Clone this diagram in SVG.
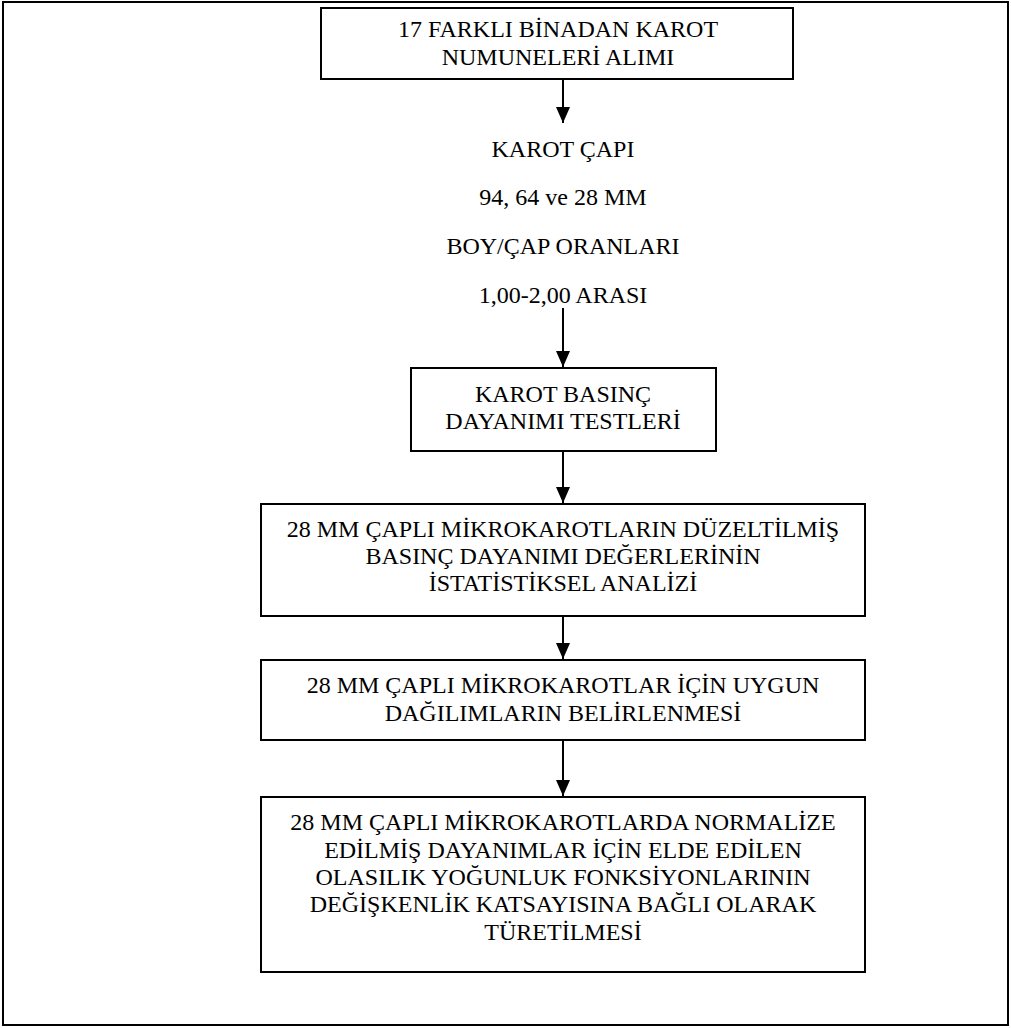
<svg xmlns="http://www.w3.org/2000/svg" width="1011" height="1028" viewBox="0 0 1011 1028">
<defs>
<style>
.frame{fill:#fff;stroke:#000;stroke-width:2}
.box{fill:#fff;stroke:#000;stroke-width:2}
.t{font-family:"Liberation Serif","Times New Roman",serif;font-size:24px;fill:#000;text-anchor:middle}
.c{stroke:#000;stroke-width:2;fill:none}
</style>
<marker id="ah" viewBox="0 0 16 14" refX="16" refY="7" markerWidth="16" markerHeight="14" markerUnits="userSpaceOnUse" orient="auto">
<path d="M0,0 L16,7 L0,14 Z" fill="#000"/>
</marker>
</defs>
<rect class="frame" x="3" y="2" width="1005" height="1023"/>
<g id="n1">
<rect class="box" x="321" y="8" width="472" height="71"/>
<text class="t" x="558" y="37">17 FARKLI BİNADAN KAROT</text>
<text class="t" x="558" y="65">NUMUNELERİ ALIMI</text>
</g>
<g id="n2">
<text class="t" x="563" y="157">KAROT ÇAPI</text>
<text class="t" x="563" y="205">94, 64 ve 28 MM</text>
<text class="t" x="563" y="254">BOY/ÇAP ORANLARI</text>
<text class="t" x="563" y="303">1,00-2,00 ARASI</text>
</g>
<g id="n3">
<rect class="box" x="411" y="368" width="305" height="83"/>
<text class="t" x="563" y="402">KAROT BASINÇ</text>
<text class="t" x="563" y="429">DAYANIMI TESTLERİ</text>
</g>
<g id="n4">
<rect class="box" x="261" y="504" width="604" height="112"/>
<text class="t" x="563" y="537">28 MM ÇAPLI MİKROKAROTLARIN DÜZELTİLMİŞ</text>
<text class="t" x="563" y="564">BASINÇ DAYANIMI DEĞERLERİNİN</text>
<text class="t" x="563" y="591">İSTATİSTİKSEL ANALİZİ</text>
</g>
<g id="n5">
<rect class="box" x="261" y="660" width="604" height="80"/>
<text class="t" x="563" y="693">28 MM ÇAPLI MİKROKAROTLAR İÇİN UYGUN</text>
<text class="t" x="563" y="721">DAĞILIMLARIN BELİRLENMESİ</text>
</g>
<g id="n6">
<rect class="box" x="261" y="797" width="604" height="175"/>
<text class="t" x="563" y="830">28 MM ÇAPLI MİKROKAROTLARDA NORMALİZE</text>
<text class="t" x="563" y="858">EDİLMİŞ DAYANIMLAR İÇİN ELDE EDİLEN</text>
<text class="t" x="563" y="885">OLASILIK YOĞUNLUK FONKSİYONLARININ</text>
<text class="t" x="563" y="912">DEĞİŞKENLİK KATSAYISINA BAĞLI OLARAK</text>
<text class="t" x="563" y="940">TÜRETİLMESİ</text>
</g>
<g id="connectors">
<line class="c" x1="563" y1="79" x2="563" y2="123" marker-end="url(#ah)"/>
<line class="c" x1="563" y1="308" x2="563" y2="367" marker-end="url(#ah)"/>
<line class="c" x1="563" y1="451" x2="563" y2="503" marker-end="url(#ah)"/>
<line class="c" x1="563" y1="616" x2="563" y2="659" marker-end="url(#ah)"/>
<line class="c" x1="563" y1="740" x2="563" y2="796" marker-end="url(#ah)"/>
</g>
</svg>
